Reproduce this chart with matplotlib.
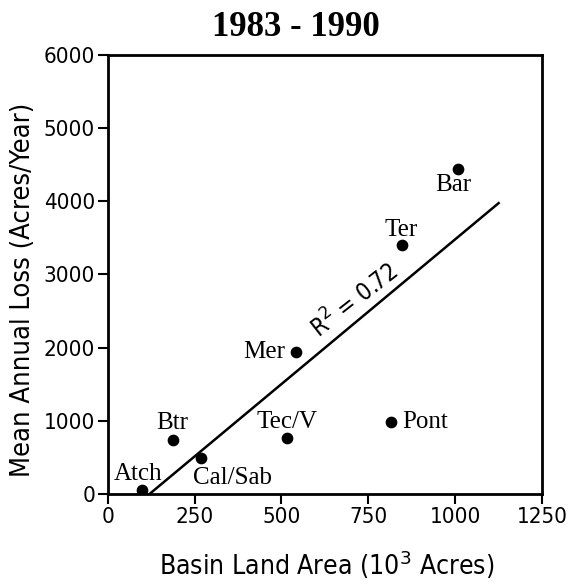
import matplotlib
matplotlib.use("Agg")
import matplotlib.pyplot as plt
from matplotlib import font_manager
from matplotlib.font_manager import FontProperties

# basins: land area (10^3 acres) vs mean annual loss (acres/yr)
names = ["Atch", "Btr", "Cal/Sab", "Tec/V", "Mer", "Pont", "Ter", "Bar"]
area = [98, 187, 268, 516, 542, 816, 848, 1007]
loss = [55, 740, 490, 765, 1940, 985, 3400, 4440]

# regression line end points
fit_x = [120, 1125]
fit_y = [0, 3975]

xticks = [0, 250, 500, 750, 1000, 1250]
yticks = [0, 1000, 2000, 3000, 4000, 5000, 6000]

# look for a narrow / condensed sans face, else plain Liberation Sans
narrow = None
for f in font_manager.fontManager.ttflist:
    nm = (f.name + " " + f.fname).lower()
    if not ("narrow" in nm or "condensed" in nm):
        continue
    if "serif" in nm or "mono" in nm or "oblique" in nm or "italic" in nm or "bold" in nm:
        continue
    narrow = f.fname
    break


def sans(size):
    if narrow:
        return FontProperties(fname=narrow, size=size)
    return FontProperties(family="Liberation Sans", size=size * 0.85)


serif = "Liberation Serif"

fig = plt.figure(figsize=(5.7, 5.84), dpi=100)
ax = fig.add_axes([0.189, 0.154, 0.762, 0.752])

ax.plot(fit_x, fit_y, color="black", lw=1.8)
ax.scatter(area, loss, s=55, color="black", zorder=3)

# label offsets (points) per basin
offs = {
    "Atch": (-3, 11.5, "center"),
    "Btr": (0, 12, "center"),
    "Cal/Sab": (23, -14, "center"),
    "Tec/V": (0, 11.5, "center"),
    "Mer": (-8, 0, "right"),
    "Pont": (8, 0, "left"),
    "Ter": (-1, 11, "center"),
    "Bar": (-3, -11.5, "center"),
}
for n, x, y in zip(names, area, loss):
    dx, dy, ha = offs[n]
    ax.annotate(n, (x, y), xytext=(dx, dy), textcoords="offset points",
                ha=ha, va="center", fontsize=18, family=serif)

ax.text(712, 2640, "R$^2$ = 0.72", rotation=38, rotation_mode="anchor",
        ha="center", va="center", fontproperties=sans(17))

ax.set_xlim(0, 1250)
ax.set_ylim(0, 6000)
ax.set_xticks(xticks)
ax.set_yticks(yticks)
ax.tick_params(direction="out", length=7, width=1.5, pad=2)
for lab in ax.get_xticklabels() + ax.get_yticklabels():
    lab.set_fontproperties(sans(16))
for sp in ax.spines.values():
    sp.set_linewidth(2)

ax.set_xlabel("Basin Land Area (10$^3$ Acres)", fontproperties=sans(19))
ax.set_ylabel("Mean Annual Loss (Acres/Year)", fontproperties=sans(19.5))
ax.xaxis.set_label_coords(0.505, -0.125)
ax.yaxis.set_label_coords(-0.164, 0.465)
fig.text(296 / 570, 1 - 27 / 584, "1983 - 1990", fontsize=25, fontweight="bold",
         family=serif, ha="center", va="center")

fig.savefig("out.png", dpi=100)
